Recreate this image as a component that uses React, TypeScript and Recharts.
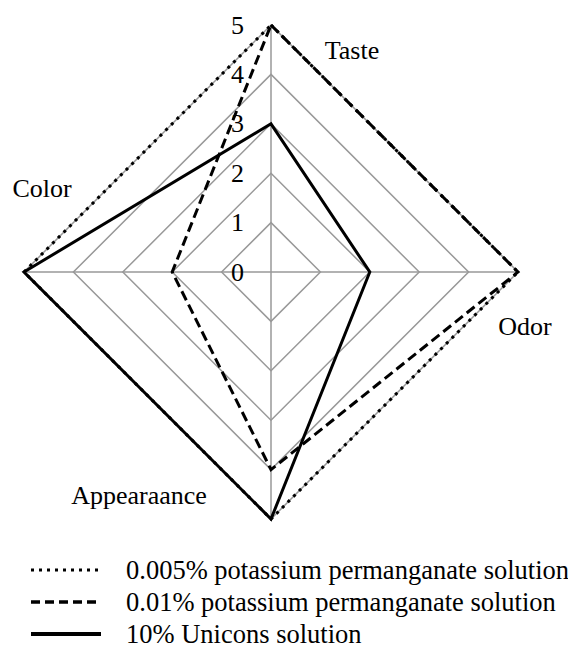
import React from 'react';
import { RadarChart, Radar, PolarGrid, PolarAngleAxis, PolarRadiusAxis, Legend } from 'recharts';

const categories = ['Taste', 'Odor', 'Appearaance', 'Color'];
const series005 = [5, 5, 5, 5];
const series001 = [5, 5, 4, 2];
const series10 = [3, 2, 5, 5];
const radiusTicks = [0, 1, 2, 3, 4, 5];

const seriesNames = [
  '0.005% potassium permanganate solution',
  '0.01% potassium permanganate solution',
  '10% Unicons solution',
];

const data = categories.map((c, i) => ({
  subject: c,
  a: series005[i],
  b: series001[i],
  c: series10[i],
}));

const FONT = '"Liberation Serif", "Times New Roman", serif';
const FS = 26;

const labelOffsets: Record<string, [number, number]> = {
  Taste: [81, 33],
  Odor: [-1, 54],
  Appearaance: [-132, -32],
  Color: [26, -84],
};

const AngleTick = (props: any) => {
  const { x, y, payload } = props;
  const off = labelOffsets[payload.value] || [0, 0];
  return (
    <text
      x={x + off[0]}
      y={y + off[1]}
      textAnchor="middle"
      dominantBaseline="central"
      fontFamily={FONT}
      fontSize={FS}
      fill="#000"
    >
      {payload.value}
    </text>
  );
};

const RadiusTick = (props: any) => {
  const { x, y, payload } = props;
  return (
    <text
      x={x - 27}
      y={y}
      textAnchor="end"
      dominantBaseline="central"
      fontFamily={FONT}
      fontSize={FS}
      fill="#000"
    >
      {payload.value}
    </text>
  );
};

const dashes = ['3 5', '9 5', undefined];
const widths = [3, 3.5, 4];

const LegendContent = () => (
  <div style={{ fontFamily: FONT, fontSize: 26.5, color: '#000', whiteSpace: 'nowrap' }}>
    {seriesNames.map((n, i) => (
      <div key={n} style={{ display: 'flex', alignItems: 'center', height: 32 }}>
        <svg width={72} height={10} style={{ marginRight: 24, flexShrink: 0 }}>
          <line x1={1} y1={5} x2={71} y2={5} stroke="#000" strokeWidth={widths[i]} strokeDasharray={dashes[i]} />
        </svg>
        <span style={{ lineHeight: '28px' }}>{n}</span>
      </div>
    ))}
  </div>
);

export default function App() {
  return (
    <>
      <style>{'html,body{overflow:hidden}'}</style>
      <RadarChart
        width={568}
        height={642}
        data={data}
        cx={263}
        cy={264}
        outerRadius={247}
        margin={{ top: 0, right: 0, bottom: 0, left: 0 }}
      >
        <PolarGrid gridType="polygon" stroke="#999" strokeWidth={1.5} />
        <PolarAngleAxis dataKey="subject" tick={<AngleTick />} tickLine={false} axisLine={false} />
        <PolarRadiusAxis
          angle={90}
          domain={[0, 5]}
          ticks={radiusTicks as any}
          tickCount={6}
          tick={<RadiusTick />}
          axisLine={false}
          tickLine={false}
        />
        <Radar name={seriesNames[0]} dataKey="a" stroke="#000" strokeWidth={3} strokeDasharray="3 5" fill="none" fillOpacity={0} dot={false} isAnimationActive={false} />
        <Radar name={seriesNames[1]} dataKey="b" stroke="#000" strokeWidth={3} strokeDasharray="10 5" fill="none" fillOpacity={0} dot={false} isAnimationActive={false} />
        <Radar name={seriesNames[2]} dataKey="c" stroke="#000" strokeWidth={3} fill="none" fillOpacity={0} dot={false} isAnimationActive={false} />
        <Legend
          verticalAlign="bottom"
          content={<LegendContent />}
          wrapperStyle={{ position: 'absolute', left: 22, top: 546, width: 546, bottom: 'auto' }}
        />
      </RadarChart>
    </>
  );
}
